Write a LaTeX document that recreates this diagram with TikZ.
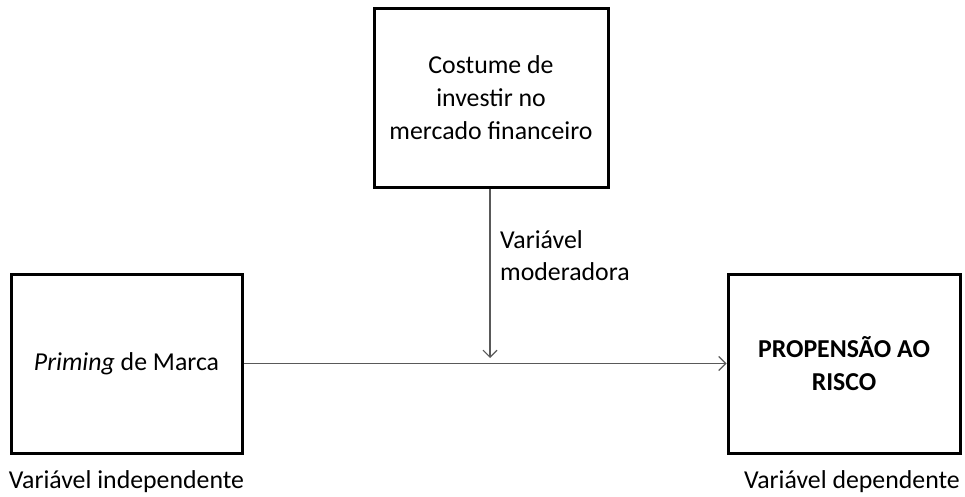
\documentclass[tikz,border=0pt]{standalone}
\usepackage{fontspec}
\setmainfont{Carlito}
\usetikzlibrary{arrows.meta}
\begin{document}
\begin{tikzpicture}[x=1pt,y=-1pt,
  box/.style={draw=black,line width=3pt,inner sep=0pt,align=center,font=\fontsize{25.8}{33}\selectfont},
  conn/.style={draw=black!65,line width=1.1pt,-{Straight Barb[length=7pt,width=14pt,line width=1.1pt]}},
  lbl/.style={font=\fontsize{25.8}{32}\selectfont,inner sep=0pt}]
\useasboundingbox (0,0) rectangle (965,497);
\node[box,minimum width=234pt,minimum height=178pt] (mod) at (491,98) {Costume de\\investir no\\mercado financeiro};
\node[box,minimum width=231pt,minimum height=179pt] (iv) at (126.5,363.5) {\textit{Priming} de Marca};
\node[box,minimum width=232pt,minimum height=179pt] (dv) at (844,363.5) {\textbf{PROPENSÃO AO}\\\textbf{RISCO}};
\coordinate (mid) at (490,358);
\draw[conn] (iv.east) -- (dv.west);
\draw[conn] (mod.south -| mid) -- (mid);
\node[lbl,anchor=west,align=left] (ml) at (500,256) {Variável\\moderadora};
\node[lbl] (ivl) at (iv.south |- 0,482) {Variável independente};
\node[lbl,anchor=east] (dvl) at (960,482) {Variável dependente};
\end{tikzpicture}
\end{document}
